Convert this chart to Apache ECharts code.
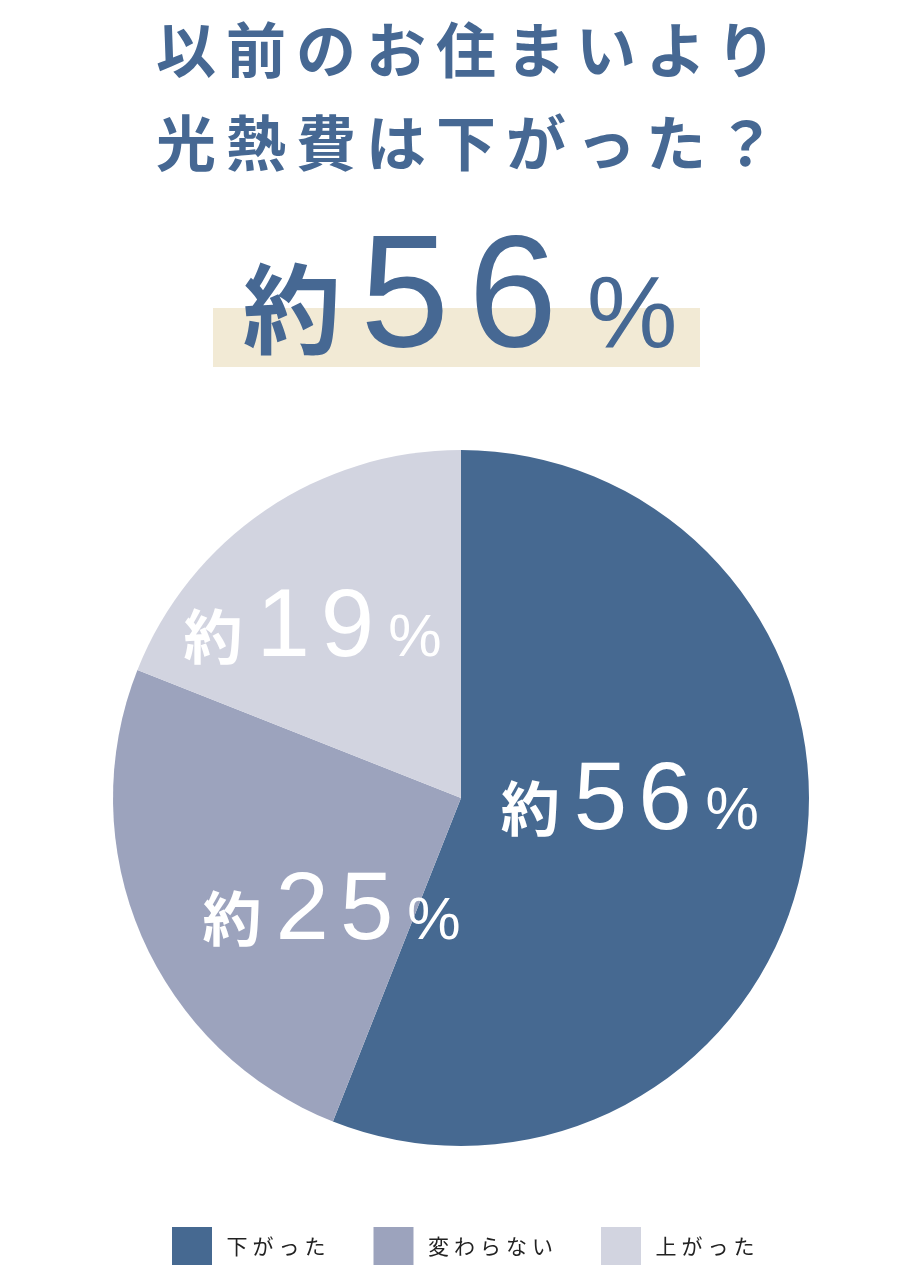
<!DOCTYPE html>
<html>
<head>
<meta charset="utf-8" />
<script src="https://cdn.jsdelivr.net/npm/echarts@6/dist/echarts.min.js"></script>
<style>
  html, body { margin: 0; padding: 0; background: #fff; }
  #main { width: 920px; height: 1280px; }
</style>
</head>
<body>
<div id="main"></div>
<script>
// question heading, one entry per line
var titleLines = ["以前のお住まいより", "光熱費は下がった？"];
// the highlighted headline figure
var headPrefix = "約";
var headValue = 56;
var headSuffix = "%";
// pie data
var categories = ["下がった", "変わらない", "上がった"];
var values = [56, 25, 19];

var palette = ["#466991", "#9ca3bd", "#d2d4e0"];
var labelOffsets = [[-5, -29], [33, 44], [-49, -22]];

var CJK = "Noto Sans CJK JP";
var NUM = "Liberation Sans";

function spread(str, key) {
    var out = "";
    for (var i = 0; i < str.length; i++) {
        out += "{" + key + "|" + str.charAt(i) + "}";
    }
    return out;
}

function figure(prefix, value, suffix) {
    return "{k|" + prefix + "}" + spread(String(value), "n") + "{p|" + suffix + "}";
}

var chart = echarts.init(document.getElementById("main"), null, { renderer: "canvas" });

var pieData = [];
for (var i = 0; i < values.length; i++) {
    pieData.push({
        name: categories[i],
        value: values[i],
        itemStyle: { color: palette[i] },
        label: { offset: labelOffsets[i] }
    });
}

chart.setOption({
    animation: false,
    title: [
        {
            text: titleLines.map(function (l) { return spread(l, "t"); }).join("\n"),
            left: 151,
            top: 4,
            padding: 0,
            textStyle: {
                rich: {
                    t: {
                        fontFamily: CJK,
                        fontWeight: "bold",
                        fontSize: 60,
                        color: "#466893",
                        padding: [0, 5],
                        lineHeight: 93
                    }
                }
            }
        },
        {
            text: figure(headPrefix, headValue, headSuffix),
            left: "center",
            top: 217,
            textStyle: {
                fontWeight: "normal",
                rich: {
                    k: {
                        fontFamily: CJK,
                        fontWeight: "bold",
                        fontSize: 98,
                        color: "#466893",
                        verticalAlign: "bottom",
                        padding: [0, 10, 24, 0]
                    },
                    n: {
                        fontFamily: NUM,
                        fontWeight: "normal",
                        fontSize: 160,
                        color: "#466893",
                        verticalAlign: "bottom",
                        padding: [0, 9.5]
                    },
                    p: {
                        fontFamily: NUM,
                        fontWeight: "normal",
                        fontSize: 102,
                        color: "#466893",
                        verticalAlign: "bottom",
                        padding: [0, 0, 12, 20]
                    }
                }
            }
        }
    ],
    graphic: [
        {
            type: "rect",
            z: -1,
            shape: { x: 213, y: 308, width: 487, height: 59 },
            style: { fill: "#f2ead5" }
        }
    ],
    legend: {
        data: categories,
        bottom: 10,
        left: 167,
        icon: "rect",
        itemWidth: 40,
        itemHeight: 38,
        itemGap: 48,
        selectedMode: false,
        formatter: function (name) { return spread(name, "c"); },
        textStyle: {
            padding: [0, 0, 0, 7],
            rich: {
                c: {
                    fontFamily: CJK,
                    fontSize: 21,
                    color: "#222",
                    padding: [0, 2.5]
                }
            }
        }
    },
    series: [
        {
            type: "pie",
            center: [461, 798],
            radius: 348,
            startAngle: 90,
            clockwise: true,
            silent: true,
            labelLine: { show: false },
            label: {
                show: true,
                position: "inside",
                formatter: function (p) { return figure("約", p.value, "%"); },
                rich: {
                    k: {
                        fontFamily: CJK,
                        fontWeight: "bold",
                        fontSize: 59,
                        color: "#fff",
                        verticalAlign: "bottom",
                        padding: [0, 8.5, 12, 0]
                    },
                    n: {
                        fontFamily: NUM,
                        fontSize: 96,
                        color: "#fff",
                        verticalAlign: "bottom",
                        padding: [0, 5.5]
                    },
                    p: {
                        fontFamily: NUM,
                        fontSize: 60,
                        color: "#fff",
                        verticalAlign: "bottom",
                        padding: [0, 0, 8, 8.5]
                    }
                }
            },
            data: pieData
        }
    ]
});
</script>
</body>
</html>
